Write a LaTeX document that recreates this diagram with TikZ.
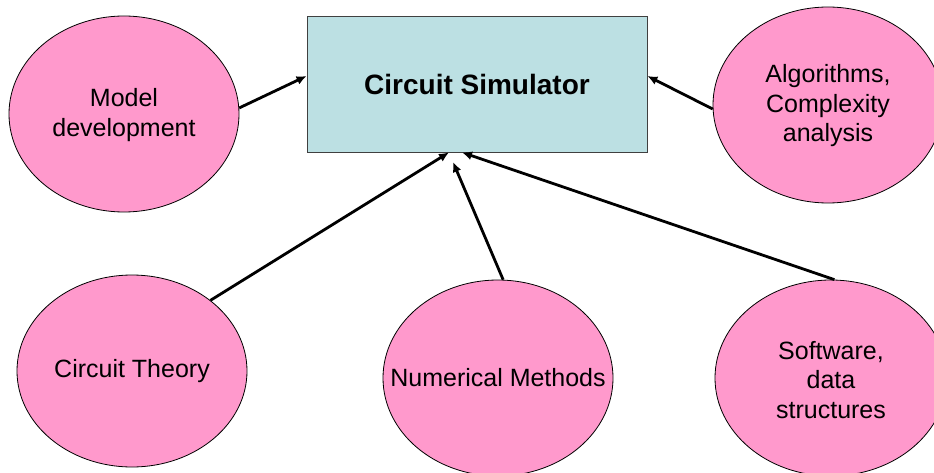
\documentclass[tikz,border=0pt]{standalone}
\usepackage{fontspec}
\setmainfont{Liberation Sans}
\usetikzlibrary{shapes.geometric,arrows.meta,calc}
\definecolor{bubble}{RGB}{255,153,204}
\definecolor{simfill}{RGB}{188,224,227}
\begin{document}
\begin{tikzpicture}[x=1pt,y=-1pt,
  topic/.style={ellipse,draw=black,line width=0.8pt,fill=bubble,inner sep=0pt,
    minimum width=230pt,minimum height=196pt},
  topictext/.style={align=center,inner sep=0pt,font=\fontsize{25}{29.5}\selectfont},
  simbox/.style={draw=black!75,line width=0.8pt,fill=simfill,inner sep=0pt,
    minimum width=340pt,minimum height=136pt,font=\fontsize{28}{33}\selectfont\bfseries},
  feed/.style={line width=2.8pt,-{Latex[length=10pt,width=9pt]}}]
\useasboundingbox (0,0) rectangle (934,473);
\clip (0,0) rectangle (934,473);

% central block
\node[simbox] (sim) at (477,84) {Circuit Simulator};

% contributing topics
\node[topic] (model) at (124,114) {};
\node[topictext] (modeltext) at (124,115) {Model\\development};

\node[topic] (algo) at (828,105) {};
\node[topictext] (algotext) at (828,106) {Algorithms,\\Complexity\\analysis};

\node[topic,minimum height=192pt] (theory) at (132,371) {};
\node[topictext] (theorytext) at (132,371) {Circuit Theory};

\node[topic] (num) at (498,378) {};
\node[topictext] (numtext) at (498,378) {Numerical Methods};

\node[topic,minimum width=232pt] (soft) at (831,378) {};
\node[topictext] (softtext) at (831,380) {Software,\\data\\structures};

% arrows into the simulator
\coordinate (numtip) at (453,162);
\draw[feed] (model.3) -- ($(sim.west)+(0,-8)$);
\draw[feed] (algo.182) -- ($(sim.east)+(0,-8)$);
\draw[feed] (theory.42) -- ($(sim.south)+(-28,0)$);
\draw[feed] (num.87) -- (numtip);
\draw[feed] (soft.88) -- ($(sim.south)+(-15,0)$);
\end{tikzpicture}
\end{document}
